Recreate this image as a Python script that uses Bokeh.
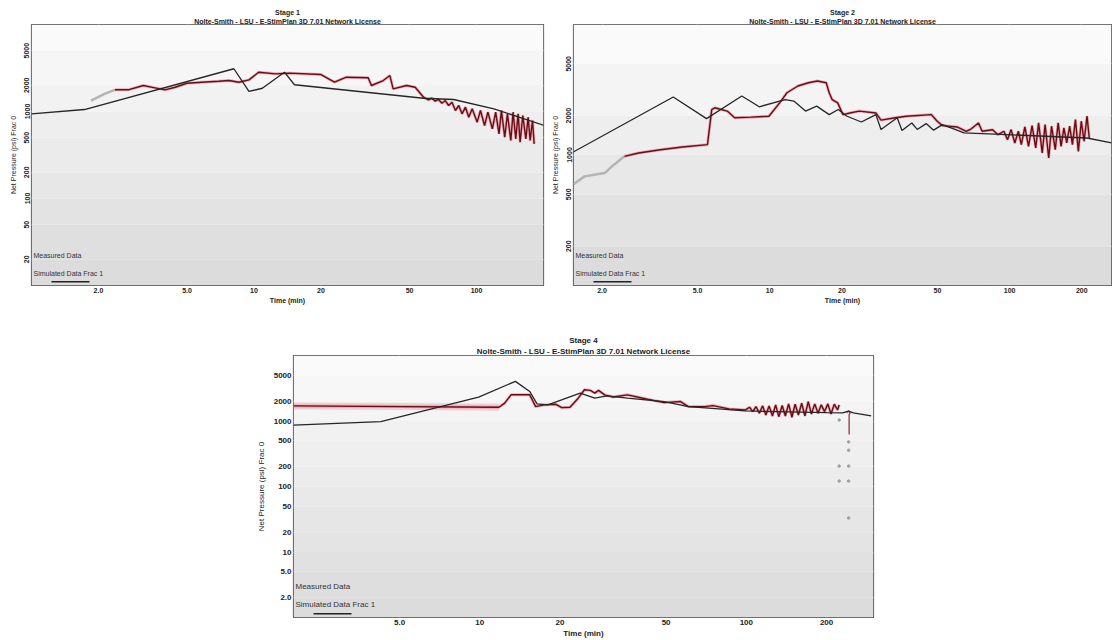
import numpy as np
from bokeh.plotting import figure
from bokeh.models import Range1d, FixedTicker, Title, Label, BoxAnnotation, Spacer
from bokeh.layouts import column, row
from bokeh.embed import file_html
from bokeh.resources import INLINE

SUBTITLE = "Nolte-Smith - LSU - E-StimPlan 3D 7.01 Network License"
X_LABEL = "Time (min)"
Y_LABEL = "Net Pressure (psi) Frac 0"
LEG_MEAS = "Measured Data"
LEG_SIM = "Simulated Data Frac 1"

# ---------------- Stage 1 ----------------
s1_x_ticks = [2, 5, 10, 20, 50, 100]
s1_x_labels = ["2.0", "5.0", "10", "20", "50", "100"]
s1_y_ticks = [20, 50, 100, 200, 500, 1000, 2000, 5000]
s1_y_labels = ["20", "50", "100", "200", "500", "1000", "2000", "5000"]
s1_sim_t = [1.0, 1.73, 8.12, 9.49, 10.9, 13.7, 15.2, 57.8, 78.9, 119.7, 202]
s1_sim_p = [940, 1054, 3100, 1700, 1850, 2830, 2030, 1420, 1374, 1074, 690]
s1_meas_gray_t = [1.85, 2.13, 2.37]
s1_meas_gray_p = [1337, 1597, 1775]
s1_meas_t = [2.37, 2.72, 3.18, 3.59, 3.98, 4.42, 4.99, 5.83, 6.94, 7.71, 8.55, 9.49,
             10.5, 12.5, 14.4, 20.0, 23.0, 26.0, 32.6, 33.7, 38.1, 40.8, 42.2, 48.5,
             53.0, 57.8, 60.8, 63.0, 65.2, 67.5, 69.9, 72.4, 74.9, 77.6, 80.4, 83.2,
             86.1, 89.2, 92.3, 95.6, 100.7, 104.2, 108.7, 112.5, 117.8, 121.9, 126.2,
             129.4, 133.9, 137.7, 142.6, 146.0, 150.1, 153.8, 157.0, 161.4, 166.6,
             170.6, 174.2, 178.5, 181.6]
s1_meas_p = [1775, 1775, 1990, 1870, 1775, 1900, 2110, 2170, 2230, 2270, 2170, 2310,
             2830, 2710, 2760, 2660, 2170, 2480, 2440, 1990, 2270, 2590, 1820, 1990,
             1900, 1460, 1362, 1422, 1314, 1374, 1246, 1337, 1172, 1279, 1027, 1172,
             940, 1121, 860, 1074, 754, 1027, 690, 982, 632, 982, 554,
             1027, 507, 940, 464, 982, 485, 940, 444, 900, 485,
             860, 464, 788, 425]

# ---------------- Stage 2 ----------------
s2_x_ticks = [2, 5, 10, 20, 50, 100, 200]
s2_x_labels = ["2.0", "5.0", "10", "20", "50", "100", "200"]
s2_y_ticks = [200, 500, 1000, 2000, 5000]
s2_y_labels = ["200", "500", "1000", "2000", "5000"]
s2_sim_t = [1.51, 3.96, 5.45, 7.65, 9.04, 11.6, 12.6, 14.1, 15.7, 17.7, 19.3, 20.9,
            24.1, 27.7, 29.1, 34.0, 35.6, 39.1, 41.2, 44.9, 48.2, 52.5, 64.6, 210, 266]
s2_sim_p = [1050, 2780, 1900, 2830, 2340, 2660, 2590, 2170, 2370, 2040, 2230, 1990,
            1790, 2040, 1570, 1930, 1540, 1760, 1570, 1740, 1550, 1710, 1480, 1350, 1240]
s2_meas_gray_t = [1.52, 1.69, 2.05, 2.20, 2.48]
s2_meas_gray_p = [598, 686, 727, 818, 977]
s2_meas_t = [2.48, 2.84, 3.50, 4.32, 5.5, 5.73, 5.9, 6.65, 7.14, 8.34, 9.92, 11.0, 11.8,
             13.1, 14.5, 15.8, 17.2, 17.7, 18.2, 19.2, 20.2, 21.6, 23.6, 27.7, 29.1,
             33.4, 37.1, 47.2, 49.9, 52.5, 60.4, 66.0, 69.0, 74.2, 76.8, 85.0, 89.4,
             94.7, 98.0, 101.5, 105.1, 108.8, 111.9, 115.8, 119.9, 124.1, 128.5, 132.1,
             136.8, 140.6, 145.6, 149.6, 155.0, 159.4, 163.9, 168.4, 173.1, 178.0,
             182.8, 188.2, 193.5, 199.0, 204.5, 210.3, 214.8]
s2_meas_p = [977, 1036, 1098, 1152, 1200, 2230, 2300, 2170, 1930, 1950, 1980, 2510, 3000,
             3380, 3580, 3690, 3580, 3000, 2660, 2510, 2040, 2100, 2170, 2100, 1850,
             1930, 1980, 2040, 1815, 1680, 1640, 1520, 1580, 1760, 1520, 1560, 1430,
             1521, 1311, 1566, 1237, 1521, 1200, 1642, 1166, 1680, 1132, 1762,
             1036, 1711, 948, 1662, 1099, 1762, 1166, 1613, 1237, 1662,
             1200, 1869, 1067, 1815, 1274, 1985, 1351]

# ---------------- Stage 4 ----------------
s4_x_ticks = [5, 10, 20, 50, 100, 200]
s4_x_labels = ["5.0", "10", "20", "50", "100", "200"]
s4_y_ticks = [2, 5, 10, 20, 50, 100, 200, 500, 1000, 2000, 5000]
s4_y_labels = ["2.0", "5.0", "10", "20", "50", "100", "200", "500", "1000", "2000", "5000"]
s4_sim_t = [2.0, 4.25, 9.9, 13.6, 15.4, 16.4, 18.0, 23.8, 27.0, 30.0, 35.8, 49.2, 60.6,
            99.2, 201, 230, 242, 252, 294]
s4_sim_p = [868, 975, 2320, 4030, 2820, 1830, 1760, 2670, 2230, 2420, 2230, 1980, 1660,
            1425, 1340, 1330, 1420, 1330, 1200]
s4_meas_t = [2.0, 5.15, 11.8, 12.4, 13.1, 15.4, 16.2, 17.4, 19.3, 20.3, 21.8, 23.4, 24.7,
             26.0, 27.0, 27.9, 29.4, 31.6, 35.8, 42.6, 49.2, 56.6, 60.6, 69.8, 74.9, 86.1,
             99.2, 102.8, 105.8, 108.7, 111.9, 115.1, 118.4, 121.7, 125.3, 128.8, 132.4,
             136.3, 140.1, 144.1, 148.3, 152.4, 156.8, 161.3, 165.9, 170.7, 175.5, 180.6,
             185.8, 191.0, 196.6, 202.2, 207.8, 213.8, 220.0, 223.0]
s4_meas_p = [1700, 1660, 1620, 1870, 2510, 2510, 1660, 1760, 1800, 1600, 1620, 2230, 3000,
             2930, 2670, 2930, 2510, 2320, 2510, 2150, 1910, 1980, 1660, 1660, 1720, 1530,
             1476, 1622, 1393, 1662, 1313, 1702, 1237, 1702, 1194, 1763, 1164,
             1720, 1194, 1826, 1140, 1806, 1237, 1870, 1194, 1980, 1281, 1826,
             1313, 1763, 1393, 1826, 1281, 1806, 1476, 1763]
s4_tail_t = [238, 242, 245, 243, 243]
s4_tail_p = [1350, 1420, 1300, 1250, 620]
s4_dots_t = [223, 242, 223, 242, 242, 242, 242, 223]
s4_dots_p = [205, 205, 121, 121, 33, 480, 358, 1035]

PINK = "#e07a8c"
DARK = "#6a0c14"
GRAY = "#b4b4b4"
SIM = "#262626"
TXT = "#222222"
FONT = "Liberation Sans"


def make_fig(stage, xr, yr, xt, xl, yt, yl, fw, fh, bl, br, bt, bb, fs, vertical):
    p = figure(frame_width=fw, frame_height=fh,
               x_axis_type="log", y_axis_type="log",
               x_range=Range1d(*xr), y_range=Range1d(*yr),
               output_backend="svg", toolbar_location=None,
               min_border_left=bl, min_border_right=br,
               min_border_top=bt, min_border_bottom=bb,
               background_fill_color="#f4f4f4", border_fill_color="white",
               outline_line_color="#4a4a4a", outline_line_width=1.2)
    p.add_layout(Title(text=SUBTITLE, align="center", text_font=FONT,
                       text_font_size=fs, text_font_style="bold", text_color=TXT,
                       standoff=0, offset=0), "above")
    p.add_layout(Title(text=stage, align="center", text_font=FONT,
                       text_font_size=fs, text_font_style="bold", text_color=TXT,
                       standoff=0, offset=0), "above")
    # background gradient bands between tick decades
    edges = [yr[0]] + yt + [yr[1]]
    n = len(edges) - 1
    shades = np.linspace(0xdc, 0xfa, n).astype(int)
    cols = ["#%02x%02x%02x" % (s, s, s) for s in shades]
    p.quad(left=[xr[0]] * n, right=[xr[1]] * n, bottom=edges[:-1], top=edges[1:],
           fill_color=cols, line_color=None)

    p.xaxis.ticker = FixedTicker(ticks=xt)
    p.yaxis.ticker = FixedTicker(ticks=yt)
    p.xgrid.ticker = FixedTicker(ticks=xt)
    p.ygrid.ticker = FixedTicker(ticks=yt)
    p.xaxis.major_label_overrides = {v: s for v, s in zip(xt, xl)}
    p.yaxis.major_label_overrides = {v: s for v, s in zip(yt, yl)}
    p.xgrid.grid_line_color = "#d8d8d8"
    p.xgrid.grid_line_width = 1.6
    p.xgrid.grid_line_alpha = 0.8
    p.ygrid.grid_line_color = "#fbfbfb"
    p.ygrid.grid_line_width = 1.6
    for ax in (p.xaxis, p.yaxis):
        ax.axis_line_color = None
        ax.major_tick_line_color = None
        ax.minor_tick_line_color = None
        ax.major_tick_out = 0
        ax.major_tick_in = 0
        ax.minor_tick_out = 0
        ax.minor_tick_in = 0
        ax.major_label_text_font = FONT
        ax.major_label_text_font_size = fs
        ax.major_label_text_font_style = "bold"
        ax.major_label_text_color = TXT
        ax.axis_label_text_font = FONT
        ax.axis_label_text_font_size = fs
        ax.axis_label_text_color = TXT
        ax.major_label_standoff = 2
    p.xaxis.axis_label = X_LABEL
    p.xaxis.axis_label_text_font_style = "bold"
    p.xaxis.axis_label_standoff = 1
    p.yaxis.axis_label = Y_LABEL
    p.yaxis.axis_label_text_font_style = "normal"
    p.yaxis.axis_label_standoff = 5
    if vertical:
        p.yaxis.major_label_orientation = "vertical"
    return p


def add_legend(p, fs):
    p.add_layout(Label(x=2, y=27, x_units="screen", y_units="screen", text=LEG_MEAS,
                       text_font=FONT, text_font_size=fs, text_color="#333333"))
    p.add_layout(Label(x=2, y=9, x_units="screen", y_units="screen", text=LEG_SIM,
                       text_font=FONT, text_font_size=fs, text_color="#333333"))
    p.add_layout(BoxAnnotation(left=20, right=58, bottom=3, top=4.5,
                               left_units="screen", right_units="screen",
                               bottom_units="screen", top_units="screen",
                               fill_color="#222222", fill_alpha=1, line_color=None))


def draw_meas(p, t, v):
    p.line(t, v, line_color=PINK, line_width=3.0, line_alpha=0.55)
    p.line(t, v, line_color=DARK, line_width=1.4)


# Stage 1
p1 = make_fig("Stage 1", (1.0, 200), (10, 10000), s1_x_ticks, s1_x_labels, s1_y_ticks,
              s1_y_labels, 512, 261, 31, 2, 24, 23, "7px", True)
p1.line(s1_meas_gray_t, s1_meas_gray_p, line_color=GRAY, line_width=2.5)
draw_meas(p1, s1_meas_t, s1_meas_p)
p1.line(s1_sim_t, s1_sim_p, line_color=SIM, line_width=1.3)
add_legend(p1, "7px")

# Stage 2
p2 = make_fig("Stage 2", (1.52, 266), (100, 10000), s2_x_ticks, s2_x_labels, s2_y_ticks,
              s2_y_labels, 538, 261, 28, 1, 24, 23, "7px", True)
p2.line(s2_meas_gray_t, s2_meas_gray_p, line_color=GRAY, line_width=2.5)
draw_meas(p2, s2_meas_t, s2_meas_p)
p2.line(s2_sim_t, s2_sim_p, line_color=SIM, line_width=1.3)
add_legend(p2, "7px")

# Stage 4
p4 = make_fig("Stage 4", (2.0, 300), (1, 10000), s4_x_ticks, s4_x_labels, s4_y_ticks,
              s4_y_labels, 580, 262, 53, 7, 47, 23, "8px", False)
p4.line(s4_meas_t[:3], s4_meas_p[:3], line_color=PINK, line_width=7, line_alpha=0.3)
draw_meas(p4, s4_meas_t, s4_meas_p)
p4.line(s4_tail_t, s4_tail_p, line_color=DARK, line_width=1.3, line_alpha=0.8)
p4.scatter(s4_dots_t, s4_dots_p, size=2.5, color="#a0a0a0")
p4.line(s4_sim_t, s4_sim_p, line_color=SIM, line_width=1.3)
add_legend(p4, "8px")

layout = column(row(p1, p2), row(Spacer(width=240, height=10), p4))
open("out.html", "w").write(file_html(layout, INLINE))
